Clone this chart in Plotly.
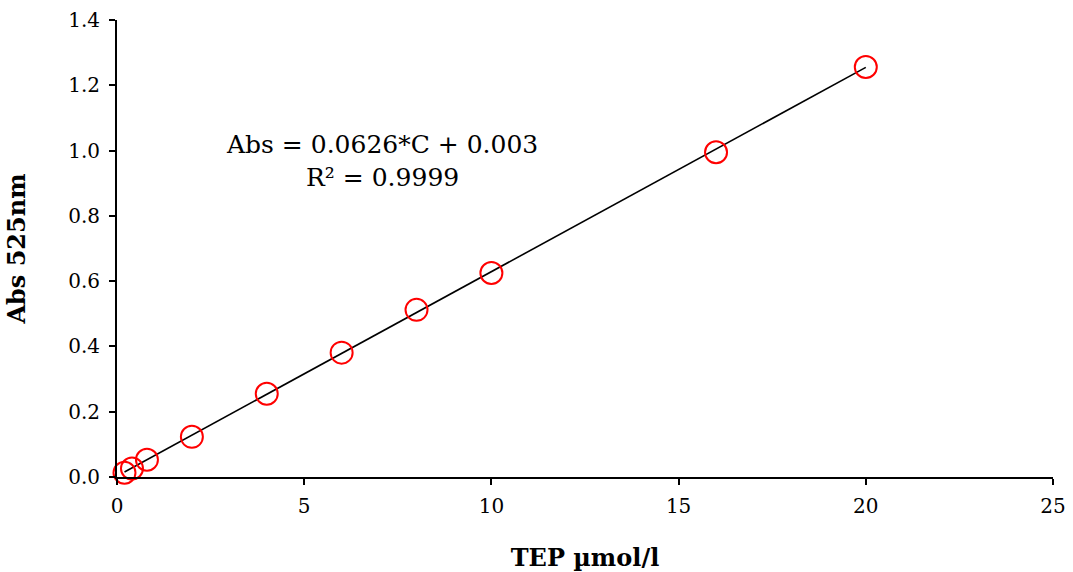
import plotly.graph_objects as go

conc = [0.2, 0.4, 0.8, 2, 4, 6, 8, 10, 16, 20]
absorb = [0.013, 0.026, 0.053, 0.123, 0.255, 0.381, 0.512, 0.625, 0.995, 1.256]
slope = 0.0626
intercept = 0.003
fit_x = [min(conc), max(conc)]
fit_y = [slope * x + intercept for x in fit_x]

FONT = "DejaVu Serif"

fig = go.Figure()
fig.add_trace(go.Scatter(x=fit_x, y=fit_y, mode="lines", cliponaxis=False,
                         line=dict(color="black", width=1.6), showlegend=False))
fig.add_trace(go.Scatter(x=conc, y=absorb, mode="markers", cliponaxis=False,
                         marker=dict(symbol="circle-open", size=22, color="#ff0000",
                                     line=dict(width=2, color="#ff0000")),
                         showlegend=False))

fig.add_annotation(x=7.08, y=0.968, xref="x", yref="y", showarrow=False,
                   text="Abs = 0.0626*C + 0.003<br>R² = 0.9999",
                   font=dict(family=FONT, size=25, color="black"), align="center")

fig.update_layout(
    width=1073, height=572,
    margin=dict(l=117, r=20, t=20, b=95, autoexpand=False),
    plot_bgcolor="white", paper_bgcolor="white",
    font=dict(family=FONT, size=20, color="black"),
    xaxis=dict(range=[0, 25], tickvals=[0, 5, 10, 15, 20, 25], showgrid=False,
               zeroline=False, showline=True, linecolor="black", linewidth=2,
               ticks="outside", ticklen=6, tickwidth=1.5, tickcolor="black",
               ticklabelstandoff=4,
               title=dict(text="<b>TEP µmol/l</b>", font=dict(family=FONT, size=24),
                          standoff=36)),
    yaxis=dict(range=[0, 1.4], tickvals=[0, 0.2, 0.4, 0.6, 0.8, 1.0, 1.2, 1.4],
               tickformat=".1f", showgrid=False, zeroline=False, showline=True,
               linecolor="black", linewidth=2, ticks="outside", ticklen=6,
               tickwidth=1.5, tickcolor="black", ticklabelstandoff=5,
               title=dict(text="<b>Abs 525nm</b>", font=dict(family=FONT, size=24),
                          standoff=36)),
)

fig.write_html("out.html", config={"displayModeBar": False},
               post_script="document.body.style.margin='0';document.body.style.padding='0';")
